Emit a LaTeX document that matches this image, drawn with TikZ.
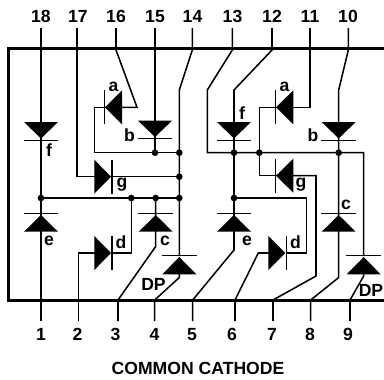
\documentclass[tikz,border=0pt]{standalone}
\usepackage{fontspec}
\setmainfont{Liberation Sans}
\newcommand{\diodeV}[4]{% x, base y, tip y, bar y
  \fill (#1-17,#2) -- (#1+17,#2) -- (#1,#3) -- cycle;
  \draw[wire] (#1-17.3,#4) -- (#1+17.3,#4);}
\newcommand{\diodeH}[4]{% y, base x, tip x, bar x
  \fill (#2,#1-17) -- (#2,#1+17) -- (#3,#1) -- cycle;
  \draw[wire] (#4,#1-17) -- (#4,#1+17);}
\tikzset{
  wire/.style={line width=1.15pt,line join=miter},
  frameline/.style={line width=2.6pt,line join=miter},
  junction/.style={circle,fill=black,inner sep=0pt,minimum size=5pt},
  pinlabel/.style={font=\fontsize{13.2}{14}\selectfont\bfseries,inner sep=0pt,anchor=base},
  seglabel/.style={font=\fontsize{13.2}{14}\selectfont\bfseries,inner sep=0pt,anchor=base},
  titlelabel/.style={font=\fontsize{13.2}{14}\selectfont\bfseries,inner sep=0pt,anchor=base}
}
\begin{document}
\begin{tikzpicture}[x=0.75pt,y=-0.75pt]
\useasboundingbox (0,0) rectangle (384,379);
\clip (0,0) rectangle (384,379);
% frame
\draw[frameline] (390,48.3) -- (8.3,48.3) -- (8.3,300.7) -- (390,300.7);
% pin labels
\foreach \n/\x in {18/41,17/78,16/116,15/155,14/192.5,13/232.5,12/272,11/310,10/348}
  \node[pinlabel] (t\n) at (\x,22.7) {\n};
\foreach \n/\x in {1/41,2/77.5,3/115.5,4/154.5,5/192,6/232,7/272,8/310,9/348}
  \node[pinlabel] (b\n) at (\x,340) {\n};
\node[titlelabel] (title) at (198,374) {COMMON CATHODE};
% pin ends
\foreach \n/\x in {18/41,17/77,16/116,15/155,14/192.3,13/232.3,12/272,11/310,10/348.3}
  \coordinate (pt\n) at (\x,28);
\foreach \n/\x in {1/41,2/78.7,3/118,4/154.7,5/192.7,6/235,7/273,8/310.7,9/350}
  \coordinate (pb\n) at (\x,321);
% junctions
\foreach \n/\x/\y in {ja/155/152.7,jb/179.3/152.7,jc/179.3/176.7,jd/41/198,je/131.3/198,jf/155.7/198,jg/179.3/198,
  jh/234/152.7,ji/259.3/152.7,jj/338.7/152.7,jk/234/198}
  \node[junction] (\n) at (\x,\y) {};
% left wires
\draw[wire] (pt18) -- (pb1);
\draw[wire] (pt17) -- (77,176.7) -- (94.5,176.7);
\draw[wire] (112,176.7) -- (jc.center);
\draw[wire] (pt16) -- (116,50) -- (137,107.3) -- (105,107.3);
\draw[wire] (104,107.3) -- (94.3,107.3) -- (94.3,152.7) -- (jb.center);
\draw[wire] (pt15) -- (ja.center);
\draw[wire] (pt14) -- (192.3,50) -- (179.3,90) -- (179.3,256);
\draw[wire] (jd.center) -- (jg.center);
\draw[wire] (je.center) -- (131.3,253) -- (112,253);
\draw[wire] (pb2) -- (78.7,253) -- (94.5,253);
\draw[wire] (jf.center) -- (155.7,246.5) -- (118,300) -- (pb3);
\draw[wire] (179.3,270) -- (179.3,277.5) -- (154.7,300) -- (pb4);
% right wires
\draw[wire] (pt13) -- (232.3,50) -- (207.3,90) -- (207.3,152.7) -- (363.7,152.7) -- (363.7,256);
\draw[wire] (pt12) -- (272,50) -- (234,90) -- (234,250) -- (192.7,300) -- (pb5);
\draw[wire] (pt11) -- (310,107.3) -- (293,107.3);
\draw[wire] (275.3,107.3) -- (259.3,107.3) -- (259.3,175.7) -- (276,175.7);
\draw[wire] (293,175.7) -- (316,175.7) -- (316,276) -- (273,300) -- (pb7);
\draw[wire] (pt10) -- (348.3,50) -- (338.7,90) -- (338.7,277.5) -- (310.7,300) -- (pb8);
\draw[wire] (jk.center) -- (306.7,198) -- (306.7,253) -- (286.3,253);
\draw[wire] (pb6) -- (235,300) -- (258.3,253) -- (268.5,253);
\draw[wire] (363.7,270) -- (363.7,276) -- (350,300) -- (pb9);
% left diodes
\diodeV{41}{122}{138.5}{140.3}
\diodeV{155}{120.7}{137}{138.3}
\diodeH{107.3}{122}{105}{104.3}
\diodeH{176.7}{94.3}{111}{112}
\diodeV{41}{231.7}{215}{213.7}
\diodeV{155.7}{231.7}{215}{213.7}
\diodeH{253}{94.3}{111}{112}
\diodeV{179.3}{274.3}{257}{255.7}
% right diodes
\diodeV{234}{122}{138.5}{140.3}
\diodeV{338.7}{122}{138.5}{140.3}
\diodeH{107.3}{293.3}{276}{275.3}
\diodeH{175.7}{293.3}{276}{275.3}
\diodeV{234}{231.7}{215}{213.7}
\diodeV{338.7}{231.7}{215}{213.7}
\diodeH{253}{268.3}{285.3}{286.3}
\diodeV{363.7}{274.3}{257}{255.7}
% segment labels
\foreach \n/\t/\x/\y in {la/a/113.5/91.7,lb/b/129.5/141.7,lc/f/49/156.7,ld/g/122/187.5,le/e/49/245,lf/d/121/248.3,lg/c/165/245,lh/DP/153.5/290,
  li/a/284.5/91.7,lj/f/242/119.3,lk/b/313/141.7,ll/g/301/187.5,lm/e/247/245,ln/d/295.5/248.3,lo/c/346/209.3,lp/DP/371/296}
  \node[seglabel] (\n) at (\x,\y) {\t};
\end{tikzpicture}
\end{document}
